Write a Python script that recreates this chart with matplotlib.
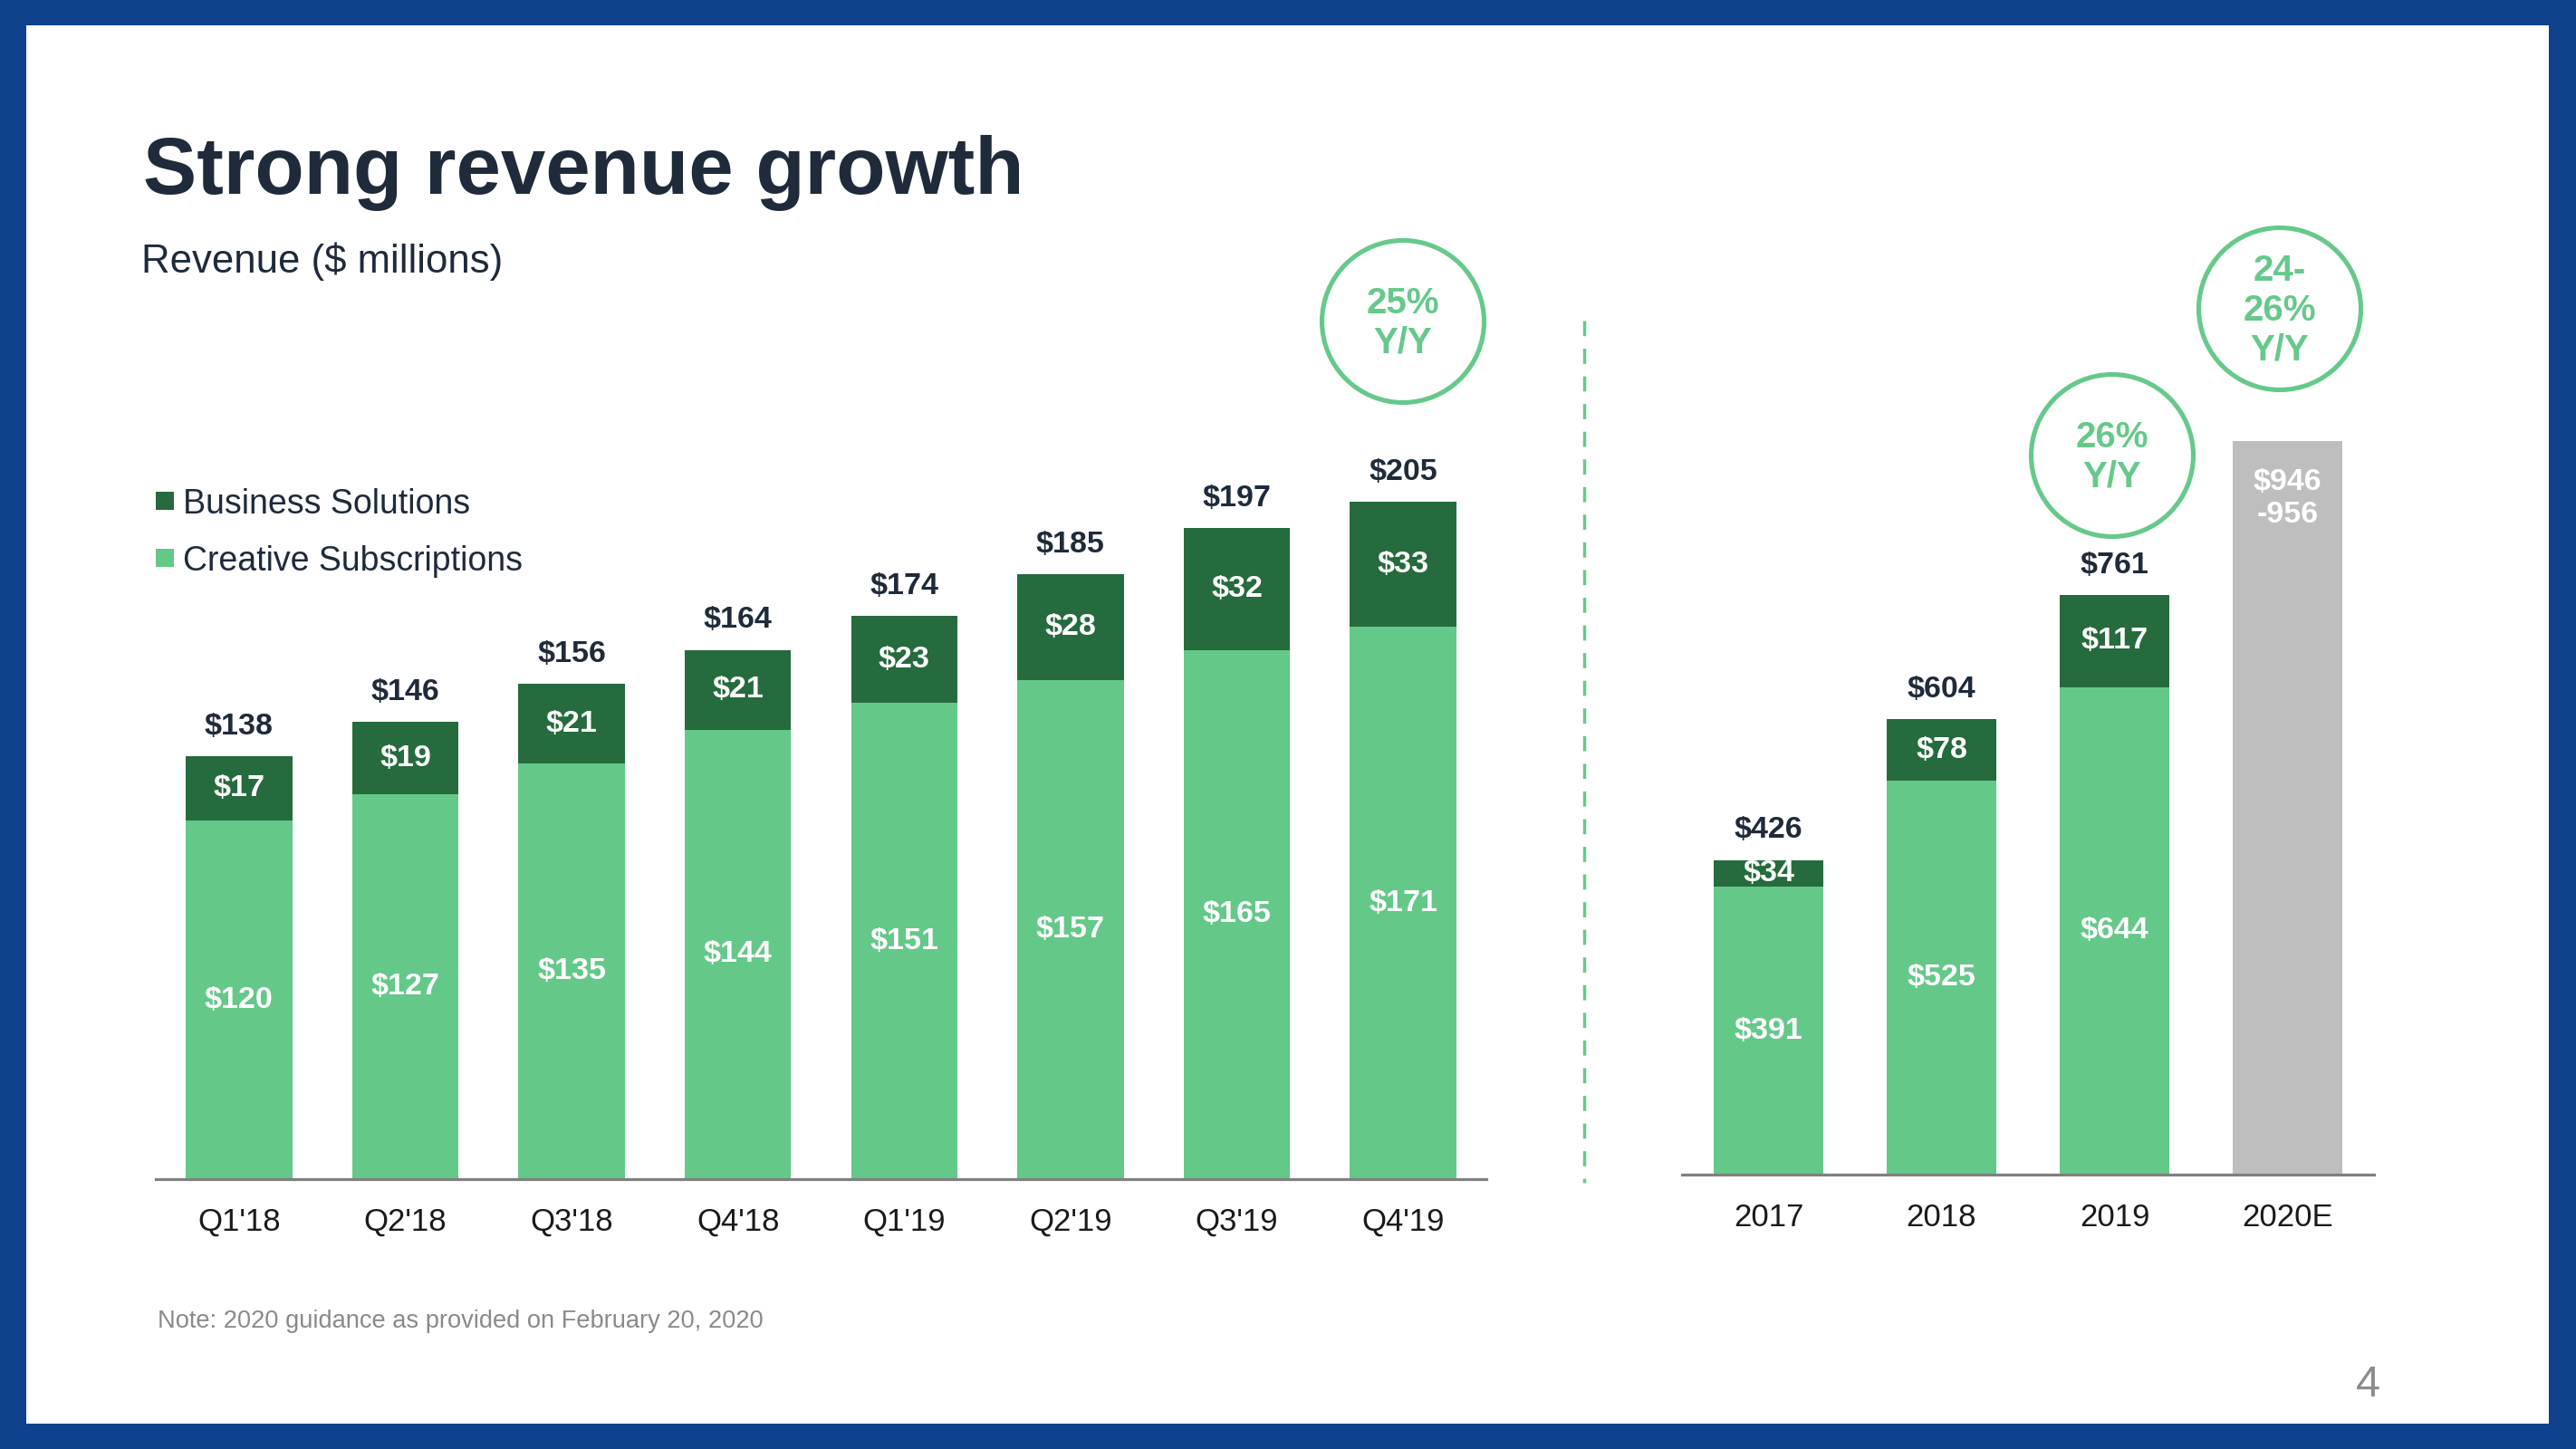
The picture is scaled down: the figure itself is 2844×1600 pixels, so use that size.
import matplotlib
matplotlib.use("Agg")
import matplotlib.pyplot as plt
from matplotlib.patches import Rectangle, Circle

plt.rcParams["font.family"] = ["Liberation Sans", "DejaVu Sans"]
plt.rcParams["text.parse_math"] = False

# ---------------- data ----------------
quarters = ["Q1'18", "Q2'18", "Q3'18", "Q4'18", "Q1'19", "Q2'19", "Q3'19", "Q4'19"]
q_creative = [120, 127, 135, 144, 151, 157, 165, 171]
q_business = [17, 19, 21, 21, 23, 28, 32, 33]
q_total = [138, 146, 156, 164, 174, 185, 197, 205]

years = ["2017", "2018", "2019", "2020E"]
y_creative = [391, 525, 644]
y_business = [34, 78, 117]
y_total = [426, 604, 761]
guidance_low, guidance_high = 946, 956

growth_quarter = "25%\nY/Y"
growth_2019 = "26%\nY/Y"
growth_2020 = "24-\n26%\nY/Y"

legend_labels = ["Business Solutions", "Creative Subscriptions"]

# ---------------- style ----------------
W, H, DPI = 2844, 1600, 100
BLUE = "#10418C"
DARK = "#256B3D"
LIGHT = "#64C889"
GRAY = "#BEBEBE"
NAVY = "#1F2B3A"
RING = "#66C98B"
AXIS = "#808080"

fig = plt.figure(figsize=(W / DPI, H / DPI), dpi=DPI)
fig.patch.set_facecolor(BLUE)

def px_rect(x0, y0, x1, y1):
    return [x0 / W, 1 - y1 / H, (x1 - x0) / W, (y1 - y0) / H]

# background panel
bg = fig.add_axes([0, 0, 1, 1], zorder=0)
bg.set_xlim(0, W); bg.set_ylim(H, 0); bg.axis("off")
bg.add_patch(Rectangle((29, 28), 2814 - 29, 1572 - 28, color="white", lw=0))

def style_axis(ax):
    for s in ("left", "right", "top"):
        ax.spines[s].set_visible(False)
    ax.spines["bottom"].set_color(AXIS)
    ax.spines["bottom"].set_linewidth(2.3)
    ax.set_yticks([])
    ax.tick_params(axis="x", length=0, pad=22, labelsize=25, labelcolor="#1a1a1a")
    ax.patch.set_alpha(0)

lab_kw = dict(ha="center", va="center", fontsize=24.5, fontweight="bold")

# ---------------- quarterly chart ----------------
YLO1 = 25.7
ax1 = fig.add_axes(px_rect(172, 300, 1641, 1302), zorder=1)
style_axis(ax1)
xq = list(range(len(quarters)))
ax1.bar(xq, q_creative, width=0.64, color=LIGHT, lw=0)
ax1.bar(xq, q_business, bottom=q_creative, width=0.64, color=DARK, lw=0)
ax1.set_xlim(-0.5, len(quarters) - 0.5)
ax1.set_ylim(YLO1, YLO1 + (1302 - 300) / 4.195)
ax1.set_xticks(xq, quarters)
for i in xq:
    c, b = q_creative[i], q_business[i]
    ax1.text(i, (YLO1 + c) / 2, f"${c}", color="white", **lab_kw)
    ax1.text(i, c + b / 2, f"${b}", color="white", **lab_kw)
    ax1.annotate(f"${q_total[i]}", (i, c + b), xytext=(0, 23.5),
                 textcoords="offset points", color=NAVY, **lab_kw)

# ---------------- annual chart ----------------
YLO2 = 26.5
ax2 = fig.add_axes(px_rect(1857, 300, 2621, 1297), zorder=1)
style_axis(ax2)
xy = list(range(len(years)))
xa = xy[:len(y_creative)]
ax2.bar(xa, y_creative, width=0.636, color=LIGHT, lw=0)
ax2.bar(xa, y_business, bottom=y_creative, width=0.636, color=DARK, lw=0)
ax2.bar([xy[-1]], [guidance_high], width=0.636, color=GRAY, lw=0)
ax2.set_xlim(-0.5, len(years) - 0.5)
ax2.set_ylim(YLO2, YLO2 + (1297 - 300) / 0.8717)
ax2.set_xticks(xy, years)
for i in xa:
    c, b = y_creative[i], y_business[i]
    ax2.text(i, (YLO2 + c) / 2, f"${c}", color="white", **lab_kw)
    ax2.text(i, c + b / 2, f"${b}", color="white", **lab_kw)
    ax2.annotate(f"${y_total[i]}", (i, c + b), xytext=(0, 23.5),
                 textcoords="offset points", color=NAVY, **lab_kw)
ax2.annotate(f"${guidance_low}\n-{guidance_high}", (xy[-1], guidance_high),
             xytext=(0, -46), textcoords="offset points", color="white",
             linespacing=1.22, **lab_kw)

# ---------------- overlay (text, rings, divider, legend) ----------------
ov = fig.add_axes([0, 0, 1, 1], zorder=3)
ov.set_xlim(0, W); ov.set_ylim(H, 0); ov.axis("off"); ov.patch.set_alpha(0)

ov.text(158, 214, "Strong revenue growth", fontsize=64, fontweight="bold",
        color=NAVY, ha="left", va="baseline")
ov.text(156, 301, "Revenue ($ millions)", fontsize=31.5, color=NAVY,
        ha="left", va="baseline")

# legend
for (lab, col, ytop, ybase) in [(legend_labels[0], DARK, 543, 567),
                                 (legend_labels[1], LIGHT, 606, 630)]:
    ov.add_patch(Rectangle((172, ytop), 20, 20, color=col, lw=0))
    ov.text(202, ybase, lab, fontsize=27, color=NAVY, ha="left", va="baseline")

# rings
for (cx, cy, txt) in [(1549, 355, growth_quarter), (2332, 503, growth_2019),
                      (2517, 341, growth_2020)]:
    ov.add_patch(Circle((cx, cy), 89.5, fill=False, ec=RING, lw=3.7))
    ov.text(cx, cy + 2, txt, ha="center", va="center", fontsize=29,
            fontweight="bold", color=RING, linespacing=1.2)

# divider
ov.plot([1749, 1749], [354, 1306], color=RING, lw=2.5, dashes=(4.8, 4.0))

# note + page number
ov.text(174, 1466, "Note: 2020 guidance as provided on February 20, 2020",
        fontsize=19.6, color="#8a8a8a", ha="left", va="baseline")
ov.text(2614, 1542, "4", fontsize=35, color="#8c8c8c", ha="center", va="baseline")

fig.savefig("out.png", dpi=DPI, facecolor=fig.get_facecolor())
